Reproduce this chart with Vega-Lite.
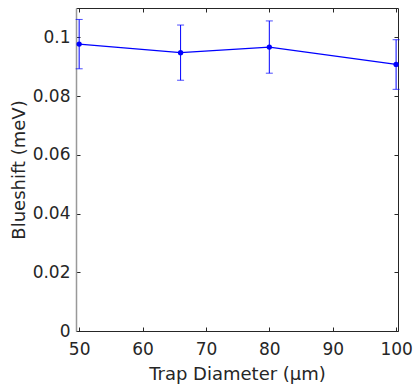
{
  "$schema": "https://vega.github.io/schema/vega-lite/v6.json",
  "autosize": "none",
  "padding": {"left": 76, "top": 8, "right": 17, "bottom": 56},
  "width": 322,
  "height": 323,
  "background": "white",
  "config": {
    "view": {"stroke": null},
    "font": "DejaVu Sans",
    "axis": {
      "grid": false,
      "domainColor": "#262626",
      "tickColor": "#262626",
      "labelColor": "#262626",
      "titleColor": "#262626",
      "labelFont": "DejaVu Sans",
      "titleFont": "DejaVu Sans",
      "labelFontSize": 17,
      "titleFontSize": 18,
      "titleFontWeight": "normal",
      "tickSize": -4,
      "domainWidth": 1
    }
  },
  "data": {
    "values": [
      {"d": 50, "b": 0.0977, "lo": 0.0893, "hi": 0.1061},
      {"d": 66, "b": 0.0948, "lo": 0.0854, "hi": 0.1042},
      {"d": 80, "b": 0.0967, "lo": 0.0878, "hi": 0.1056},
      {"d": 100, "b": 0.0908, "lo": 0.0823, "hi": 0.0992}
    ]
  },
  "resolve": {"axis": {"x": "independent", "y": "independent"}},
  "layer": [
    {
      "mark": {"type": "rule", "color": "#0000ff", "strokeWidth": 1},
      "encoding": {
        "x": {
          "field": "d", "type": "quantitative",
          "scale": {"domain": [49.5, 100.3], "nice": false, "zero": false},
          "axis": {"orient": "bottom", "values": [50, 60, 70, 80, 90, 100], "title": "Trap Diameter (μm)", "labelPadding": 14, "titlePadding": 8, "labelFlush": false}
        },
        "y": {
          "field": "lo", "type": "quantitative",
          "scale": {"domain": [0, 0.11], "nice": false},
          "axis": {"orient": "left", "values": [0, 0.02, 0.04, 0.06, 0.08, 0.1], "format": "~g", "title": "Blueshift (meV)", "labelPadding": 10, "titlePadding": 4, "domainColor": "#999999", "domainWidth": 1.5}
        },
        "y2": {"field": "hi"}
      }
    },
    {
      "mark": {"type": "tick", "color": "#0000ff", "orient": "horizontal", "size": 7, "thickness": 1},
      "encoding": {
        "x": {"field": "d", "type": "quantitative", "axis": null},
        "y": {"field": "lo", "type": "quantitative", "axis": null}
      }
    },
    {
      "mark": {"type": "tick", "color": "#0000ff", "orient": "horizontal", "size": 7, "thickness": 1},
      "encoding": {
        "x": {"field": "d", "type": "quantitative", "axis": null},
        "y": {"field": "hi", "type": "quantitative", "axis": null}
      }
    },
    {
      "mark": {"type": "line", "color": "#0000ff", "strokeWidth": 1.2, "point": {"filled": true, "color": "#0000ff", "size": 28, "opacity": 1}},
      "encoding": {
        "x": {"field": "d", "type": "quantitative",
          "axis": {"orient": "top", "values": [50, 60, 70, 80, 90, 100], "labels": false, "title": null}},
        "y": {"field": "b", "type": "quantitative",
          "axis": {"orient": "right", "values": [0, 0.02, 0.04, 0.06, 0.08, 0.1], "labels": false, "title": null}}
      }
    }
  ]
}
